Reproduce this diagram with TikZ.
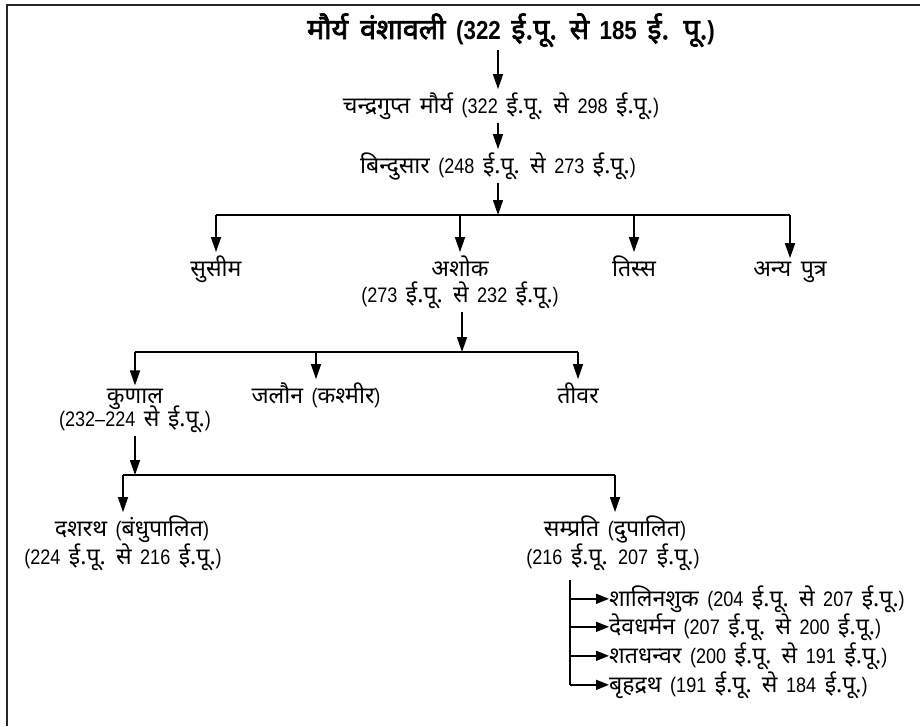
\documentclass[tikz,border=0pt]{standalone}
\usepackage{fontspec}
\setmainfont[WordSpace=1.7, FakeStretch=0.86]{Liberation Sans}
\newfontfamily\dv[Script=Devanagari, Scale=1.1, WordSpace=1.6, AutoFakeBold=2.5]{Noto Sans}
\newcommand\D[1]{{\dv #1}}
\usetikzlibrary{arrows.meta}
\tikzset{
  txt/.style={inner xsep=0pt, inner ysep=3pt, font=\fontsize{21}{24}\selectfont},
  ttl/.style={inner xsep=0pt, inner ysep=3pt, font=\fontsize{26}{28}\selectfont\bfseries},
  ln/.style={line width=1.6pt, black},
  arr/.style={line width=1.6pt, black, -{Triangle[length=15pt,width=10pt]}},
  sarr/.style={line width=1.6pt, black, -{Triangle[length=13pt,width=10pt]}},
  frame/.style={line width=2pt, black!85}
}
\begin{document}
\begin{tikzpicture}[x=1pt,y=-1pt]
\useasboundingbox (0,0) rectangle (920,726);
\draw[frame] (7,726) -- (7,5) -- (920,5);

\node[ttl, anchor=base] (title) at (511,39) {\D{मौर्य वंशावली} (322 \D{ई.पू.} \D{से} 185 \D{ई. पू.})};
\node[txt, anchor=base] (chandra) at (501,113) {\D{चन्द्रगुप्त मौर्य} (322 \D{ई.पू.} \D{से} 298 \D{ई.पू.})};
\node[txt, anchor=base] (bindu) at (498,173) {\D{बिन्दुसार} (248 \D{ई.पू.} \D{से} 273 \D{ई.पू.})};

\node[txt, anchor=base] (susim) at (216,276) {\D{सुसीम}};
\node[txt, anchor=base] (ashoka) at (460,276) {\D{अशोक}};
\node[txt, anchor=base] (ashokad) at (460,302) {(273 \D{ई.पू.} \D{से} 232 \D{ई.पू.})};
\node[txt, anchor=base] (tiss) at (634,276) {\D{तिस्स}};
\node[txt, anchor=base] (anya) at (790,276) {\D{अन्य पुत्र}};

\node[txt, anchor=base] (kunal) at (135,403) {\D{कुणाल}};
\node[txt, anchor=base] (kunald) at (135,426) {(232–224 \D{से} \D{ई.पू.})};
\node[txt, anchor=base] (jalaun) at (316,403) {\D{जलौन} (\D{कश्मीर})};
\node[txt, anchor=base] (tivar) at (578,403) {\D{तीवर}};

\node[txt, anchor=base] (dash) at (132,536) {\D{दशरथ} (\D{बंधुपालित})};
\node[txt, anchor=base] (dashd) at (123,564) {(224 \D{ई.पू.} \D{से} 216 \D{ई.पू.})};
\node[txt, anchor=base] (samp) at (615,536) {\D{सम्प्रति} (\D{दुपालित})};
\node[txt, anchor=base] (sampd) at (613,564) {(216 \D{ई.पू.} 207 \D{ई.पू.})};

\node[txt, anchor=base west] (l1) at (609,606) {\D{शालिनशुक} (204 \D{ई.पू.} \D{से} 207 \D{ई.पू.})};
\node[txt, anchor=base west] (l2) at (609,634) {\D{देवधर्मन} (207 \D{ई.पू.} \D{से} 200 \D{ई.पू.})};
\node[txt, anchor=base west] (l3) at (609,663) {\D{शतधन्वर} (200 \D{ई.पू.} \D{से} 191 \D{ई.पू.})};
\node[txt, anchor=base west] (l4) at (609,692) {\D{बृहद्रथ} (191 \D{ई.पू.} \D{से} 184 \D{ई.पू.})};

\coordinate (ax) at (498,0);
\coordinate (bar1) at (498,215);
\coordinate (bar2) at (462,352);
\coordinate (bar3) at (135,475);
\coordinate (lx) at (570,0);

\draw[arr] (title.south -| ax) -- (chandra.north -| ax);
\draw[arr] (chandra.south -| ax) -- (bindu.north -| ax);
\draw[arr] (bindu.south -| ax) -- (bar1);
\draw[ln] (susim.north |- bar1) -- (anya.north |- bar1);
\draw[arr] (susim.north |- bar1) -- (susim.north);
\draw[arr] (ashoka.north |- bar1) -- (ashoka.north);
\draw[arr] (tiss.north |- bar1) -- (tiss.north);
\draw[arr] (anya.north |- bar1) -- (anya.north);

\draw[arr] (ashokad.south -| bar2) -- (bar2);
\draw[ln] (kunal.north |- bar2) -- (tivar.north |- bar2);
\draw[arr] (kunal.north |- bar2) -- (kunal.north);
\draw[arr] (jalaun.north |- bar2) -- (jalaun.north);
\draw[arr] (tivar.north |- bar2) -- (tivar.north);

\draw[arr] (kunald.south -| bar3) -- (bar3);
\draw[ln] (dashd.north |- bar3) -- (samp.north |- bar3);
\draw[arr] (dashd.north |- bar3) -- (dashd.north |- dash.north);
\draw[arr] (samp.north |- bar3) -- (samp.north);

\draw[ln] ([yshift=-6pt]sampd.south -| lx) -- (l4.west -| lx);
\draw[sarr] (l1.west -| lx) -- (l1.west);
\draw[sarr] (l2.west -| lx) -- (l2.west);
\draw[sarr] (l3.west -| lx) -- (l3.west);
\draw[sarr] (l4.west -| lx) -- (l4.west);
\end{tikzpicture}
\end{document}
